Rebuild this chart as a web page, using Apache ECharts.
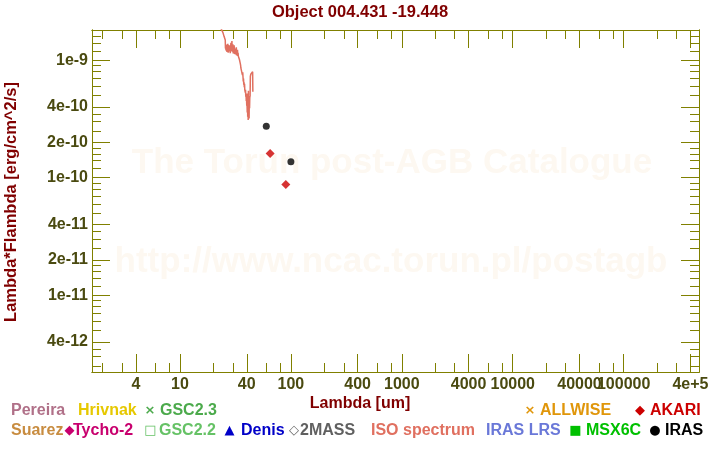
<!DOCTYPE html>
<html>
<head>
<meta charset="utf-8">
<script src="https://cdn.jsdelivr.net/npm/echarts@6/dist/echarts.min.js"></script>
<style>
html,body{margin:0;padding:0;background:#fff;}
#chart{width:720px;height:450px;}
</style>
</head>
<body>
<div id="chart"></div>
<script>
// ---- data ----
const titleText = 'Object 004.431 -19.448';
const xAxisTitle = 'Lambda [um]';
const yAxisTitle = 'Lambda*Flambda [erg/cm^2/s]';

// ISO spectrum (wavelength um, lambda*F_lambda in erg/cm^2/s)
const isoWavelength = [22.8, 23.3, 23.6, 24.0, 24.4, 24.7, 25.0, 25.3, 25.6, 25.7,
  25.8, 26.0, 26.2, 26.4, 26.6, 26.8, 27.0, 27.2, 27.4, 27.6, 27.8, 28.0, 28.2, 28.4, 28.6, 28.8, 29.0, 29.2, 29.4, 29.6,
  29.8, 30.0, 30.2, 30.4, 30.6, 30.8, 31.0, 31.2, 31.4, 31.6, 31.8, 32.0, 32.2, 32.4, 32.6, 32.8, 33.0, 33.2,
  33.4, 33.6, 33.8, 34.0, 34.2, 34.4, 34.6, 34.8, 35.0, 35.2, 35.4, 35.6, 35.8, 36.0, 36.2, 36.4, 36.6, 36.8, 37.0, 37.2,
  37.4, 37.6, 37.8, 38.0, 38.2, 38.4, 38.6, 38.8, 39.0, 39.2, 39.4, 39.6, 39.8, 40.0, 40.2,
  40.4, 40.6, 40.8, 41.0, 41.2, 41.4, 41.6, 41.8, 42.0, 42.2, 42.4, 42.6, 42.9, 43.1, 43.5, 44.0, 44.6, 45.2, 45.4];
const isoFlux = [21.0e-10, 19.2e-10, 18.4e-10, 17.9e-10, 17.2e-10, 16.9e-10, 15.9e-10, 15.7e-10, 14.9e-10, 12.6e-10,
  13.2e-10, 12.1e-10, 13.6e-10, 11.8e-10, 13.1e-10, 12.4e-10, 13.8e-10, 11.6e-10, 12.9e-10, 13.5e-10, 11.9e-10, 12.7e-10, 13.3e-10, 11.5e-10, 12.8e-10, 14.1e-10, 12.0e-10, 13.0e-10, 14.6e-10, 11.8e-10,
  12.5e-10, 13.7e-10, 11.4e-10, 12.9e-10, 12.2e-10, 13.4e-10, 11.3e-10, 12.6e-10, 13.1e-10, 11.2e-10, 12.4e-10, 11.7e-10, 12.9e-10, 11.0e-10, 12.1e-10, 11.5e-10, 12.3e-10, 10.9e-10,
  11.6e-10, 10.8e-10, 11.2e-10, 10.4e-10, 10.9e-10, 10.1e-10, 10.5e-10, 9.6e-10, 9.9e-10, 9.1e-10, 8.6e-10, 8.9e-10, 8.3e-10, 8.6e-10, 7.8e-10, 8.1e-10, 7.5e-10, 7.9e-10, 7.2e-10, 6.6e-10,
  7.0e-10, 6.2e-10, 6.5e-10, 5.9e-10, 6.3e-10, 5.6e-10, 5.8e-10, 5.3e-10, 5.6e-10, 4.9e-10, 5.2e-10, 4.5e-10, 4.8e-10, 4.1e-10, 4.4e-10,
  3.6e-10, 5.2e-10, 3.3e-10, 4.9e-10, 3.1e-10, 5.5e-10, 3.4e-10, 4.6e-10, 3.2e-10, 5.0e-10, 3.9e-10, 4.8e-10, 5.0e-10, 7.3e-10, 7.6e-10, 7.8e-10, 7.9e-10, 8.0e-10, 5.4e-10];

// IRAS photometry
const irasWavelength = [60, 100];
const irasFlux = [2.74e-10, 1.37e-10];

// AKARI photometry
const akariWavelength = [65, 90];
const akariFlux = [1.61e-10, 8.75e-11];

// axis ranges and ticks
const xMin = 1.61, xMax = 4.78e5;
const yMin = 2.22e-12, yMax = 1.81e-9;
const xMajorTicks = [4, 10, 40, 100, 400, 1000, 4000, 10000, 40000, 100000, 400000];
const xMinorTicks = [2, 3, 6, 8, 20, 30, 60, 80, 200, 300, 600, 800, 2000, 3000, 6000, 8000, 20000, 30000, 60000, 80000, 200000, 300000];
const yMajorTicks = [4e-12, 1e-11, 2e-11, 4e-11, 1e-10, 2e-10, 4e-10, 1e-9];
const yMinorTicks = [2.5e-12, 3e-12, 3.5e-12, 5e-12, 6e-12, 7e-12, 8e-12, 9e-12,
  1.2e-11, 1.4e-11, 1.6e-11, 1.8e-11, 2.5e-11, 3e-11, 3.5e-11, 5e-11, 6e-11, 7e-11, 8e-11, 9e-11,
  1.2e-10, 1.4e-10, 1.6e-10, 1.8e-10, 2.5e-10, 3e-10, 3.5e-10, 5e-10, 6e-10, 7e-10, 8e-10, 9e-10,
  1.2e-9, 1.4e-9, 1.6e-9, 1.8e-9];

// legend entries
const legendLabels = ['Pereira', 'Hrivnak', 'GSC2.3', 'ALLWISE', 'AKARI',
  'Suarez', 'Tycho-2', 'GSC2.2', 'Denis', '2MASS', 'ISO spectrum', 'IRAS LRS', 'MSX6C', 'IRAS'];
const legendColors = ['#b07088', '#e6c800', '#4caa4c', '#e0960a', '#cc0000',
  '#c88c40', '#c8006e', '#66c266', '#0000c8', '#606060', '#e07060', '#6a78d8', '#00c000', '#000000'];
const legendMarkers = ['', '', '×', '×', '◆', '', '◆', '□', '▲', '◇', '', '', '■', '●'];

const watermark1 = 'The Torun post-AGB Catalogue';
const watermark2 = 'http://www.ncac.torun.pl/postagb';

// ---- layout ----
const legendTextX = [11, 78, 160, 540, 650, 11, 73, 159, 241, 300, 371, 486, 586, 665];
const legendMarkX = [0, 0, 150, 530, 640, 0, 69.5, 150.5, 229.5, 294, 0, 0, 575.5, 655];
const legendRowY = [411, 411, 411, 411, 411, 431, 431, 431, 431, 431, 431, 431, 431, 431];

const AX = '#808000';
const LBL = '#4a4a10';
const FONT = '"Liberation Sans", Arial, sans-serif';

function fmtX(v) {
  const n = Number(Number(v).toPrecision(6));
  return n >= 300000 ? n.toExponential() : String(n);
}
function fmtY(v) {
  const n = Number(Number(v).toPrecision(6));
  return n.toExponential();
}

function xAxisDef(pos, ticks, len, labels) {
  return {
    type: 'log', logBase: 10, min: xMin, max: xMax, position: pos,
    axisLine: {show: true, onZero: false, lineStyle: {color: AX, width: 1}},
    axisTick: {show: true, inside: true, length: len, customValues: ticks, lineStyle: {color: AX, width: 1}},
    axisLabel: {show: labels, customValues: ticks, formatter: fmtX, color: LBL, fontFamily: FONT, fontWeight: 'bold', fontSize: 16, margin: 5, hideOverlap: false},
    splitLine: {show: false}, minorTick: {show: false}, minorSplitLine: {show: false}
  };
}
function yAxisDef(pos, ticks, len, labels) {
  return {
    type: 'log', logBase: 10, min: yMin, max: yMax, position: pos,
    axisLine: {show: true, onZero: false, lineStyle: {color: AX, width: 1}},
    axisTick: {show: true, inside: true, length: len, customValues: ticks, lineStyle: {color: AX, width: 1}},
    axisLabel: {show: labels, customValues: ticks, formatter: fmtY, color: LBL, fontFamily: FONT, fontWeight: 'bold', fontSize: 16, margin: 4, hideOverlap: false},
    splitLine: {show: false}, minorTick: {show: false}, minorSplitLine: {show: false}
  };
}

const graphics = [];
// watermark
graphics.push({type: 'text', x: 392, y: 163, z: -10, silent: true, style: {text: watermark1, fill: '#fdf8f1', font: 'bold 35px ' + FONT, textAlign: 'center', textVerticalAlign: 'middle'}});
graphics.push({type: 'text', x: 391, y: 262, z: -10, silent: true, style: {text: watermark2, fill: '#fdf8f1', font: 'bold 35px ' + FONT, textAlign: 'center', textVerticalAlign: 'middle'}});
// title & axis names
graphics.push({type: 'text', x: 360, y: 12, silent: true, style: {text: titleText, fill: '#800000', font: 'bold 16.5px ' + FONT, textAlign: 'center', textVerticalAlign: 'middle'}});
graphics.push({type: 'text', x: 360, y: 404, silent: true, style: {text: xAxisTitle, fill: '#800000', font: 'bold 16px ' + FONT, textAlign: 'center', textVerticalAlign: 'middle'}});
graphics.push({type: 'text', x: 11, y: 202, rotation: Math.PI / 2, silent: true, style: {text: yAxisTitle, fill: '#800000', font: 'bold 16.5px ' + FONT, textAlign: 'center', textVerticalAlign: 'middle'}});
// legend
legendLabels.forEach(function (label, i) {
  const color = legendColors[i], y = legendRowY[i];
  if (legendMarkers[i]) {
    graphics.push({type: 'text', x: legendMarkX[i], y: y, silent: true,
      style: {text: legendMarkers[i], fill: color, font: 'bold 13px "DejaVu Sans", sans-serif', textAlign: 'center', textVerticalAlign: 'middle'}});
  }
  graphics.push({type: 'text', x: legendTextX[i], y: y, silent: true,
    style: {text: label, fill: color, font: 'bold 16px ' + FONT, textAlign: 'left', textVerticalAlign: 'middle'}});
});

const chart = echarts.init(document.getElementById('chart'), null, {renderer: 'canvas'});
chart.setOption({
  animation: false,
  backgroundColor: '#ffffff',
  grid: {left: 92, right: 21, top: 30, bottom: 78, containLabel: false, outerBoundsMode: 'none'},
  xAxis: [
    xAxisDef('bottom', xMajorTicks, 18, true),
    xAxisDef('bottom', xMinorTicks, 9, false),
    xAxisDef('top', xMajorTicks, 18, false),
    xAxisDef('top', xMinorTicks, 9, false)
  ],
  yAxis: [
    yAxisDef('left', yMajorTicks, 18, true),
    yAxisDef('left', yMinorTicks, 9, false),
    yAxisDef('right', yMajorTicks, 18, false),
    yAxisDef('right', yMinorTicks, 9, false)
  ],
  graphic: graphics,
  series: [
    {
      name: 'ISO spectrum', type: 'line', xAxisIndex: 0, yAxisIndex: 0,
      data: isoWavelength.map(function (w, i) { return [w, isoFlux[i]]; }),
      showSymbol: false, symbol: 'none', clip: true,
      lineStyle: {color: '#e07060', width: 1.5}, z: 3
    },
    {
      name: 'IRAS', type: 'scatter', xAxisIndex: 0, yAxisIndex: 0,
      data: irasWavelength.map(function (w, i) { return [w, irasFlux[i]]; }),
      symbol: 'circle', symbolSize: 7, itemStyle: {color: '#000000'}, z: 4
    },
    {
      name: 'AKARI', type: 'scatter', xAxisIndex: 0, yAxisIndex: 0,
      data: akariWavelength.map(function (w, i) { return [w, akariFlux[i]]; }),
      symbol: 'diamond', symbolSize: 9, itemStyle: {color: '#cc0000'}, z: 4
    }
  ]
});
</script>
</body>
</html>
